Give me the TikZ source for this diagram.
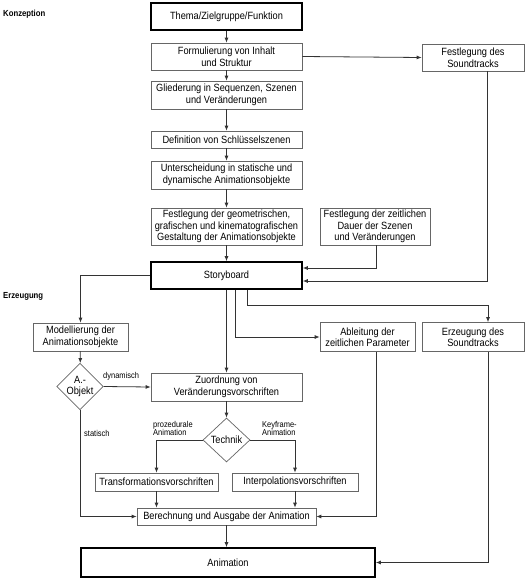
\documentclass[tikz,border=0pt]{standalone}
\usepackage{fontspec}
\setmainfont{Liberation Sans}[FakeStretch=0.88]
\usetikzlibrary{arrows.meta,shapes.geometric}
\begin{document}
\begin{tikzpicture}[x=1pt,y=-1pt,
 box/.style={draw=black!60, line width=0.7pt, fill=white, align=center, inner sep=0pt, font=\fontsize{10.5}{11.5}\selectfont},
 tbox/.style={box, draw=black, line width=1.6pt},
 dia/.style={diamond, draw=black!60, line width=0.7pt, fill=white, align=center, inner sep=0pt, font=\fontsize{10.5}{10.5}\selectfont},
 conn/.style={draw=black!80, line width=0.8pt},
 arr/.style={conn, -{Latex[length=5pt,width=4pt]}},
 lbl/.style={font=\fontsize{8.5}{8.5}\selectfont, align=left, inner sep=0pt},
 sect/.style={font=\bfseries\fontsize{8.8}{10}\selectfont, inner sep=0pt, anchor=west}]
\useasboundingbox (0,0) rectangle (526,579);

% section labels
\node[sect] (konz) at (3,14) {Konzeption};
\node[sect] (erz) at (3,296) {Erzeugung};

% main column
\node[tbox, minimum width=151pt, minimum height=27pt] (thema) at (226.5,16.5) {Thema/Zielgruppe/Funktion};
\node[box, minimum width=151pt, minimum height=27pt] (form) at (226.5,56.5) {Formulierung von Inhalt\\und Struktur};
\node[box, minimum width=151pt, minimum height=28pt] (glied) at (226.5,95) {Gliederung in Sequenzen, Szenen\\und Veränderungen};
\node[box, minimum width=151pt, minimum height=17pt] (defi) at (226.5,139.5) {Definition von Schlüsselszenen};
\node[box, minimum width=151pt, minimum height=28pt] (unter) at (226.5,175) {Unterscheidung in statische und\\dynamische Animationsobjekte};
\node[box, minimum width=151pt, minimum height=37pt] (geo) at (226.5,226.5) {Festlegung der geometrischen,\\grafischen und kinematografischen\\Gestaltung der Animationsobjekte};
\node[box, minimum width=110pt, minimum height=37pt] (zeit) at (375,226.5) {Festlegung der zeitlichen\\Dauer der Szenen\\und Veränderungen};
\node[box, minimum width=102pt, minimum height=27pt] (fsound) at (473,57.5) {Festlegung des\\Soundtracks};
\node[tbox, minimum width=151pt, minimum height=27pt] (story) at (226.5,275.5) {Storyboard};

% Erzeugung
\node[box, minimum width=95pt, minimum height=28pt] (modell) at (80.5,337) {Modellierung der\\Animationsobjekte};
\node[box, minimum width=95pt, minimum height=29pt] (ableit) at (367.5,337) {Ableitung der\\zeitlichen Parameter};
\node[box, minimum width=102pt, minimum height=29pt] (esound) at (473,337) {Erzeugung des\\Soundtracks};
\node[dia, minimum width=46pt, minimum height=43pt] (aobj) at (80,386.5) {A.-\\Objekt};
\node[box, minimum width=151pt, minimum height=28pt] (zuord) at (226.5,387) {Zuordnung von\\Veränderungsvorschriften};
\node[dia, minimum width=47pt, minimum height=44pt] (tech) at (226.5,440) {Technik};
\node[box, minimum width=123pt, minimum height=18pt] (trans) at (156.5,482) {Transformationsvorschriften};
\node[box, minimum width=126pt, minimum height=18pt] (interp) at (295,482) {Interpolationsvorschriften};
\node[box, minimum width=179pt, minimum height=17pt] (berech) at (226.5,516.5) {Berechnung und Ausgabe der Animation};
\node[tbox, minimum width=294pt, minimum height=29pt] (anim) at (228,562.5) {Animation};

% labels
\node[lbl, anchor=south west] (ldyn) at (103,380) {dynamisch};
\node[lbl, anchor=west] (lstat) at (84,433) {statisch};
\node[lbl, anchor=west] (lproz) at (153,428.5) {prozedurale\\Animation};
\node[lbl, anchor=west] (lkey) at (262,428.5) {Keyframe-\\Animation};

% helper coordinates
\coordinate (fsx) at (487,0);
\coordinate (esx) at (488,0);
\coordinate (abx) at (376,0);
\coordinate (sx2) at (235,0);
\coordinate (sx3) at (247,0);
\coordinate (y268) at (0,268);
\coordinate (y281) at (0,281);
\coordinate (y305) at (0,305);

% Konzeption connectors
\draw[arr] (thema) -- (form);
\draw[arr] (form) -- (glied);
\draw[arr] (glied) -- (defi);
\draw[arr] (defi) -- (unter);
\draw[arr] (unter) -- (geo);
\draw[arr] (geo) -- (story);
\draw[arr] (form.east) -- (fsound.west);
\draw[arr] (zeit.south -| abx) |- (story.east |- y268);
\draw[arr] (fsound.south -| fsx) |- (story.east |- y281);

% Erzeugung connectors
\draw[arr] (story.west) -| (modell.north);
\draw[arr] (story.south) -- (zuord.north);
\draw[arr] (story.south -| sx2) |- (ableit.west);
\draw[arr] (story.south -| sx3) |- (y305 -| esx) -- (esound.north -| esx);
\draw[arr] (modell) -- (aobj);
\draw[arr] (aobj.east) -- (zuord.west);
\draw[arr] (aobj.south) |- (berech.west);
\draw[arr] (zuord) -- (tech);
\draw[arr] (tech.west) -| (trans.north);
\draw[arr] (tech.east) -| (interp.north);
\draw[arr] (trans.south) -- (trans.south |- berech.north);
\draw[arr] (interp.south) -- (interp.south |- berech.north);
\draw[arr] (ableit.south -| abx) |- (berech.east);
\draw[arr] (esound.south -| esx) |- (anim.east);
\draw[arr] (berech.south) -- (berech.south |- anim.north);
\end{tikzpicture}
\end{document}
